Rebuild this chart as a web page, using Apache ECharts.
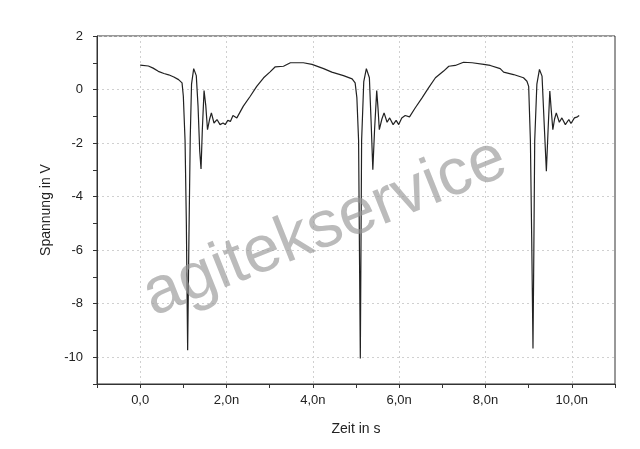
<!DOCTYPE html>
<html>
<head>
<meta charset="utf-8">
<script src="https://cdn.jsdelivr.net/npm/echarts@6/dist/echarts.min.js"></script>
<style>html,body{margin:0;padding:0;background:#fff}#c{width:640px;height:449px}</style>
</head>
<body>
<div id="c"></div>
<script>
// time in ns
const timeNs = [0,0.19,0.3,0.42,0.55,0.66,0.78,0.89,0.97,1.0,1.04,1.07,1.10,1.13,1.16,1.19,1.24,1.30,1.34,1.38,1.41,1.44,1.48,1.52,1.56,1.61,1.65,1.71,1.78,1.85,1.92,1.97,2.03,2.09,2.15,2.24,2.39,2.55,2.70,2.86,3.01,3.13,3.32,3.48,3.78,3.98,4.25,4.44,4.71,4.91,4.98,5.02,5.06,5.08,5.10,5.115,5.13,5.18,5.24,5.31,5.35,5.39,5.43,5.48,5.51,5.54,5.60,5.65,5.72,5.78,5.86,5.93,5.99,6.06,6.14,6.24,6.37,6.53,6.68,6.84,7.03,7.15,7.30,7.49,7.69,7.96,8.11,8.34,8.42,8.65,8.88,8.96,9.0,9.04,9.07,9.10,9.12,9.14,9.19,9.25,9.31,9.36,9.41,9.45,9.49,9.52,9.56,9.60,9.64,9.71,9.77,9.85,9.93,9.98,10.06,10.13,10.17];
// voltage in V
const voltage = [0.91,0.88,0.8,0.68,0.6,0.55,0.47,0.37,0.25,-0.25,-1.9,-5,-9.74,-5.5,-1.8,0.2,0.78,0.52,-0.6,-2.3,-2.97,-1.5,-0.04,-0.6,-1.5,-1.1,-0.87,-1.25,-1.12,-1.31,-1.25,-1.31,-1.15,-1.19,-0.97,-1.06,-0.62,-0.25,0.12,0.44,0.66,0.85,0.87,1.0,1.0,0.94,0.78,0.65,0.52,0.40,0.25,-0.3,-1.9,-6,-10.05,-6,-1.9,0.3,0.78,0.44,-1.2,-3.0,-1.5,-0.04,-0.7,-1.5,-1.1,-0.87,-1.22,-1.06,-1.31,-1.15,-1.31,-1.06,-0.97,-1.02,-0.69,-0.31,0.06,0.44,0.69,0.87,0.90,1.02,1.0,0.94,0.90,0.78,0.65,0.56,0.44,0.31,0.12,-1.9,-5.5,-9.67,-6,-1.9,0.2,0.75,0.5,-1.3,-3.05,-1.5,-0.06,-0.7,-1.5,-1.1,-0.87,-1.22,-1.06,-1.31,-1.12,-1.27,-1.06,-1.02,-0.97];
const xTicks = [0,2,4,6,8,10];
const yTicks = [-10,-8,-6,-4,-2,0,2];
const xTitle = 'Zeit in s';
const yTitle = 'Spannung in V';
const watermark = 'agitekservice';

const chart = echarts.init(document.getElementById('c'));
const font = 'Arial, "Liberation Sans", sans-serif';
const txt = '#222';
const pts = timeNs.map((t, i) => [t, voltage[i]]);
chart.setOption({
  animation: false,
  backgroundColor: '#fff',
  grid: {left: 97, right: 25, top: 36, bottom: 65, show: true, borderColor: '#333', borderWidth: 1},
  xAxis: {
    type: 'value', min: -1, max: 11, interval: 1,
    name: xTitle, nameLocation: 'middle', nameGap: 38,
    nameTextStyle: {fontFamily: font, fontSize: 14, color: txt},
    axisLine: {show: true, onZero: false, lineStyle: {color: '#333', width: 1}},
    axisTick: {show: true, length: 4, lineStyle: {color: '#333'}},
    axisLabel: {margin: 10, fontFamily: font, fontSize: 13, color: txt,
      formatter: v => xTicks.indexOf(v) < 0 ? '' : (v === 0 ? '0,0' : v.toFixed(1).replace('.', ',') + 'n')},
    splitLine: {show: true, lineStyle: {color: ['rgba(0,0,0,0)', '#d0d0d0'], type: [2, 3], width: 1}}
  },
  yAxis: {
    type: 'value', min: -11, max: 2, interval: 1,
    name: yTitle, nameLocation: 'middle', nameGap: 41,
    nameTextStyle: {fontFamily: font, fontSize: 14, color: txt},
    axisLine: {show: true, onZero: false, lineStyle: {color: '#333', width: 1}},
    axisTick: {show: true, length: 4, lineStyle: {color: '#333'}},
    axisLabel: {margin: 14, fontFamily: font, fontSize: 13, color: txt,
      formatter: v => yTicks.indexOf(v) < 0 ? '' : String(v)},
    splitLine: {show: true, lineStyle: {color: ['rgba(0,0,0,0)', '#d0d0d0'], type: [2, 3], width: 1}}
  },
  series: [{
    type: 'line', data: pts, showSymbol: false, symbol: 'none',
    lineStyle: {color: '#222', width: 1.2}, z: 3
  }],
  graphic: [{
    type: 'text', x: 325, y: 228, rotation: 0.38, z: 100,
    style: {text: watermark, fontFamily: font, fontSize: 66, fill: 'rgba(150,150,150,0.65)',
      align: 'center', verticalAlign: 'middle'}
  }]
});
</script>
</body>
</html>
